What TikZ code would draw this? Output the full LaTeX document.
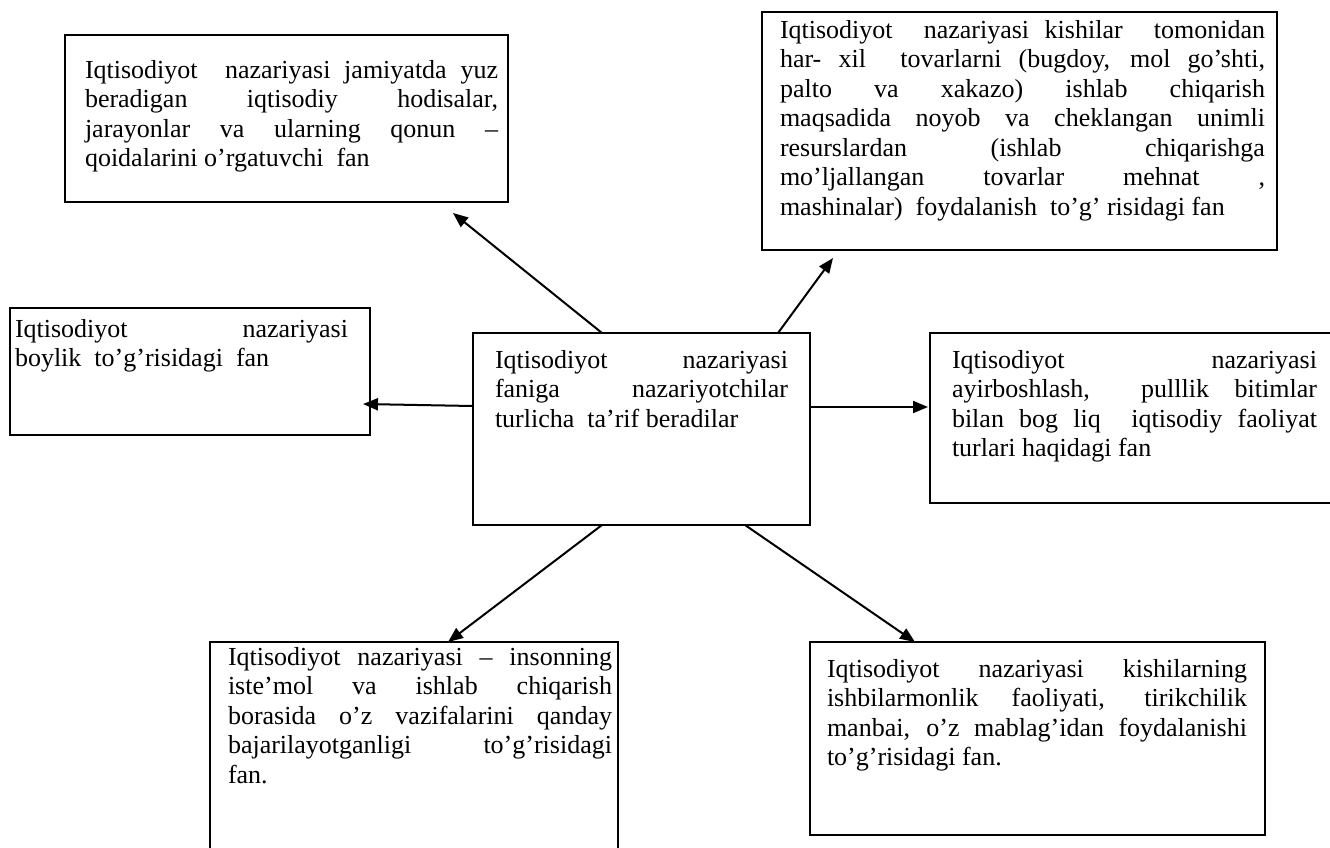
\documentclass[tikz,border=0pt]{standalone}
\usepackage{fontspec}
\setmainfont{Liberation Serif}
\usetikzlibrary{arrows.meta,calc}
\newcommand\jl[1]{\makebox[\linewidth][s]{#1}\par}
\newcommand\boxtext[6]{\parbox[b][#2][t]{#1}{\vspace*{#4}\hspace*{#3}\parbox[t]{#5}{#6}}}
\tikzset{
  box/.style={draw, line width=1.5pt, inner sep=0pt, outer sep=0pt, anchor=north west,
    font=\fontsize{26}{29.5}\selectfont},
  arr/.style={line width=2pt, -{Triangle[length=15pt,width=12pt]}},
}
\begin{document}
\begin{tikzpicture}[x=1pt,y=-1pt]
\useasboundingbox (0,0) rectangle (1330,847);
\fill[white] (0,0) rectangle (1330,847);

\node[box] (tl) at (65,35) {\boxtext{443pt}{167pt}{20pt}{25pt}{413pt}{%
\jl{Iqtisodiyot\ \ nazariyasi jamiyatda yuz}
\jl{beradigan iqtisodiy hodisalar,}
\jl{jarayonlar va ularning qonun –}
qoidalarini o’rgatuvchi\ \ fan}};

\node[box] (tr) at (762,12) {\boxtext{515pt}{238pt}{18pt}{8pt}{485pt}{%
\jl{Iqtisodiyot\ \ nazariyasi kishilar\ \ tomonidan}
\jl{har- xil\ \ tovarlarni (bugdoy, mol go’shti,}
\jl{palto va xakazo) ishlab chiqarish}
\jl{maqsadida noyob va cheklangan unimli}
\jl{resurslardan (ishlab chiqarishga}
\jl{mo’ljallangan tovarlar mehnat ,}
mashinalar)\ \ foydalanish\ \ to’g’ risidagi fan}};

\node[box] (l) at (10,308) {\boxtext{360pt}{127pt}{5pt}{11pt}{333pt}{%
\jl{Iqtisodiyot nazariyasi}
boylik\ \ to’g’risidagi\ \ fan}};

\node[box] (c) at (473,333) {\boxtext{337pt}{192pt}{22pt}{17pt}{293pt}{%
\jl{Iqtisodiyot nazariyasi}
\jl{faniga nazariyotchilar}
turlicha\ \ ta’rif beradilar}};

\node[box] (r) at (930,333) {\boxtext{420pt}{170pt}{22pt}{17pt}{365pt}{%
\jl{Iqtisodiyot nazariyasi}
\jl{ayirboshlash,\ \ pulllik bitimlar}
\jl{bilan bog liq\ \ iqtisodiy faoliyat}
turlari haqidagi fan}};

\node[box] (bl) at (210,642) {\boxtext{408pt}{230pt}{18pt}{5pt}{384pt}{%
\jl{Iqtisodiyot nazariyasi – insonning}
\jl{iste’mol va ishlab chiqarish}
\jl{borasida o’z vazifalarini qanday}
\jl{bajarilayotganligi to’g’risidagi}
fan.}};

\node[box] (br) at (810,642) {\boxtext{455pt}{193pt}{17pt}{17pt}{420pt}{%
\jl{Iqtisodiyot nazariyasi kishilarning}
\jl{ishbilarmonlik faoliyati, tirikchilik}
\jl{manbai, o’z mablag’idan foydalanishi}
to’g’risidagi fan.}};

\coordinate (s1) at ($(c.north west)+(129,0)$);
\coordinate (e1) at ($(tl.south west)+(388,11)$);
\coordinate (s2) at ($(c.north west)+(305,0)$);
\coordinate (e2) at ($(tr.south west)+(71,8)$);
\coordinate (s3) at ($(c.north west)+(0,73)$);
\coordinate (e3) at ($(l.north east)+(-7,96)$);
\coordinate (s4) at ($(c.north east)+(0,74)$);
\coordinate (e4) at ($(r.north west)+(-2,74)$);
\coordinate (s5) at ($(c.south west)+(129,0)$);
\coordinate (e5) at ($(bl.north west)+(238,0)$);
\coordinate (s6) at ($(c.south west)+(272,0)$);
\coordinate (e6) at ($(br.north west)+(105,0)$);

\draw[arr] (s1) -- (e1);
\draw[arr] (s2) -- (e2);
\draw[arr] (s3) -- (e3);
\draw[arr] (s4) -- (e4);
\draw[arr] (s5) -- (e5);
\draw[arr] (s6) -- (e6);
\end{tikzpicture}
\end{document}
